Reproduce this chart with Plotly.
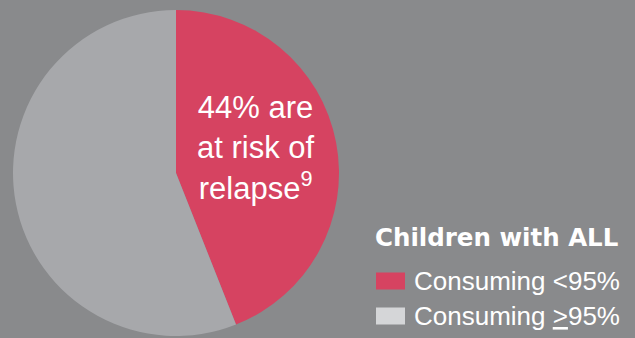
import plotly.graph_objects as go

labels = ["Consuming <95%", "Consuming ≥95%"]
values = [44, 56]
slice_colors = ["#d64361", "#a7a8ab"]
legend_colors = ["#d64361", "#d5d6d8"]
legend_title = "Children with ALL"
legend_texts = ["Consuming &lt;95%", "Consuming <u>&gt;</u>95%"]
callout = "44% are<br>at risk of<br>relapse<sup>9</sup>"

W, H = 635, 338
bg = "#898a8c"

fig = go.Figure()
fig.add_trace(go.Pie(
    labels=labels, values=values, sort=False, direction="clockwise", rotation=0,
    marker=dict(colors=slice_colors, line=dict(width=0)),
    textinfo="none", hoverinfo="label+percent", showlegend=False,
    domain=dict(x=[13 / W, 339 / W], y=[2 / H, 328 / H]),
))

annotations = [
    dict(x=256 / W, y=1 - 148 / H, xref="paper", yref="paper", text=callout,
         showarrow=False, xanchor="center", yanchor="middle", align="center",
         font=dict(family="Liberation Sans, Arial", size=31, color="white")),
    dict(x=373 / W, y=1 - 237 / H, xref="paper", yref="paper", text="<b>" + legend_title + "</b>",
         showarrow=False, xanchor="left", yanchor="middle",
         font=dict(family="DejaVu Sans", size=24.5, color="white")),
]
shapes = []
ys = [281, 316]
for i, (c, t) in enumerate(zip(legend_colors, legend_texts)):
    y = ys[i]
    shapes.append(dict(type="rect", xref="paper", yref="paper",
                       x0=376 / W, x1=405 / W, y0=1 - (y - 8.5) / H, y1=1 - (y + 8.5) / H,
                       fillcolor=c, line=dict(width=0)))
    annotations.append(dict(x=412 / W, y=1 - y / H, xref="paper", yref="paper", text=t,
                            showarrow=False, xanchor="left", yanchor="middle",
                            font=dict(family="Liberation Sans, Arial", size=26, color="white")))

fig.update_layout(
    width=W, height=H, margin=dict(l=0, r=0, t=0, b=0),
    paper_bgcolor=bg, plot_bgcolor=bg,
    annotations=annotations, shapes=shapes,
)
fig.write_html("out.html")
